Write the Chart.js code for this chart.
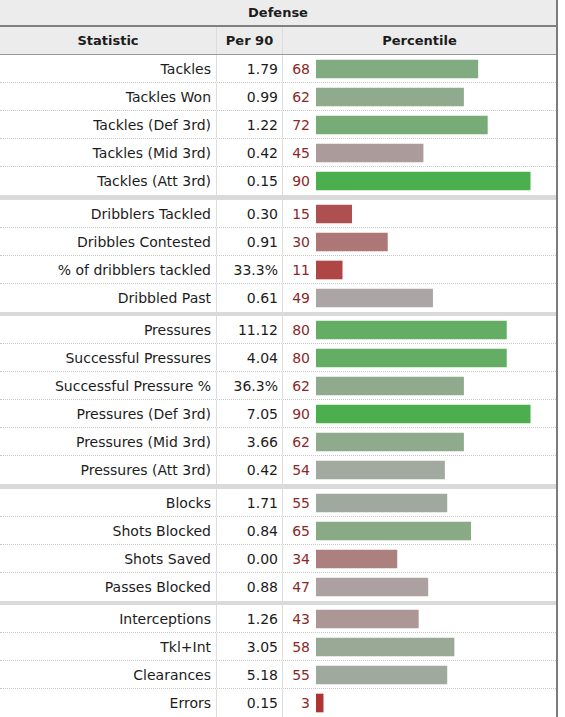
<!DOCTYPE html>
<html>
<head>
<meta charset="utf-8">
<script src="https://cdn.jsdelivr.net/npm/chart.js@4.4.1/dist/chart.umd.min.js"></script>
<style>
  body { margin: 0; background: #fff; font-family: "DejaVu Sans", Verdana, sans-serif; font-size: 14px; color: #1c1c1c; }
  #tbl { position: relative; width: 556px; border-right: 2px solid #7c7c7c; }
  .title { height: 25px; line-height: 25px; background: #ececec; border-bottom: 2px solid #808080; text-align: center; font-weight: bold; font-size: 13px; }
  .row { display: flex; height: 28px; box-sizing: border-box; border-bottom: 1px dotted #c8c8c8; align-items: center; }
  .row.last { border-bottom: none; }
  .head { height: 28px; background: #ececec; border-bottom: 1px solid #999; font-weight: bold; font-size: 13px; }
  .c1 { width: 211px; padding-right: 5px; text-align: right; white-space: nowrap; }
  .c2 { width: 61px; padding-right: 4px; border-left: 1px solid #ddd; text-align: right; height: 100%; display: flex; align-items: center; justify-content: flex-end; }
  .c3 { width: 27px; border-left: 1px solid #ddd; text-align: right; color: #8b2828; height: 100%; display: flex; align-items: center; justify-content: flex-end; }
  .head .c1, .head .c2 { text-align: center; justify-content: center; padding: 0; }
  .head .c1 { width: 216px; }
  .head .c2 { width: 65px; }
  .head .c3 { flex: 1; color: #1c1c1c; justify-content: center; }
  .group { position: relative; }
  .band { height: 5px; background: #dadada; }
  .bars { position: absolute; left: 316px; top: 0; }
</style>
</head>
<body>
<div id="tbl">
  <div class="title">Defense</div>
  <div class="row head"><div class="c1">Statistic</div><div class="c2">Per 90</div><div class="c3">Percentile</div></div>
  <div id="body"></div>
</div>
<script>
const statNames = [
  "Tackles", "Tackles Won", "Tackles (Def 3rd)", "Tackles (Mid 3rd)", "Tackles (Att 3rd)",
  "Dribblers Tackled", "Dribbles Contested", "% of dribblers tackled", "Dribbled Past",
  "Pressures", "Successful Pressures", "Successful Pressure %", "Pressures (Def 3rd)", "Pressures (Mid 3rd)", "Pressures (Att 3rd)",
  "Blocks", "Shots Blocked", "Shots Saved", "Passes Blocked",
  "Interceptions", "Tkl+Int", "Clearances", "Errors"
];
const per90 = [
  "1.79", "0.99", "1.22", "0.42", "0.15",
  "0.30", "0.91", "33.3%", "0.61",
  "11.12", "4.04", "36.3%", "7.05", "3.66", "0.42",
  "1.71", "0.84", "0.00", "0.88",
  "1.26", "3.05", "5.18", "0.15"
];
const percentiles = [
  68, 62, 72, 45, 90,
  15, 30, 11, 49,
  80, 80, 62, 90, 62, 54,
  55, 65, 34, 47,
  43, 58, 55, 3
];
const groupSizes = [5, 4, 6, 4, 4];

// grey at the median, green above, red below
function barColor(p) {
  const mid = [172, 168, 168];
  const end = p >= 50 ? [76, 175, 78] : [176, 50, 50];
  const t = p >= 50 ? Math.min((p - 50) / 40, 1) : Math.min((50 - p) / 47, 1);
  const c = mid.map((m, i) => Math.round(m + (end[i] - m) * t));
  return `rgb(${c[0]},${c[1]},${c[2]})`;
}

const body = document.getElementById("body");
const bandHeights = [5, 4, 5, 4];
let start = 0;

groupSizes.forEach((n, g) => {
  const group = document.createElement("div");
  group.className = "group";
  for (let i = start; i < start + n; i++) {
    const row = document.createElement("div");
    row.className = "row" + (i == start + n - 1 ? " last" : "");
    row.innerHTML = `<div class="c1">${statNames[i]}</div><div class="c2">${per90[i]}</div><div class="c3">${percentiles[i]}</div>`;
    group.appendChild(row);
  }
  const wrap = document.createElement("div");
  wrap.className = "bars";
  const canvas = document.createElement("canvas");
  canvas.width = 238;
  canvas.height = n * 28;
  wrap.appendChild(canvas);
  group.appendChild(wrap);
  body.appendChild(group);

  if (g < bandHeights.length) {
    const band = document.createElement("div");
    band.className = "band";
    band.style.height = bandHeights[g] + "px";
    body.appendChild(band);
  }

  const vals = percentiles.slice(start, start + n);
  new Chart(canvas, {
    type: "bar",
    data: {
      labels: statNames.slice(start, start + n),
      datasets: [{
        data: vals,
        backgroundColor: vals.map(barColor),
        borderWidth: 0,
        barThickness: 18,
      }],
    },
    options: {
      indexAxis: "y",
      responsive: false,
      animation: false,
      events: [],
      layout: { padding: 0 },
      plugins: { legend: { display: false }, tooltip: { enabled: false } },
      scales: {
        x: { display: false, min: 0, max: 100 },
        y: { display: false },
      },
    },
  });
  start += n;
});
</script>
</body>
</html>
